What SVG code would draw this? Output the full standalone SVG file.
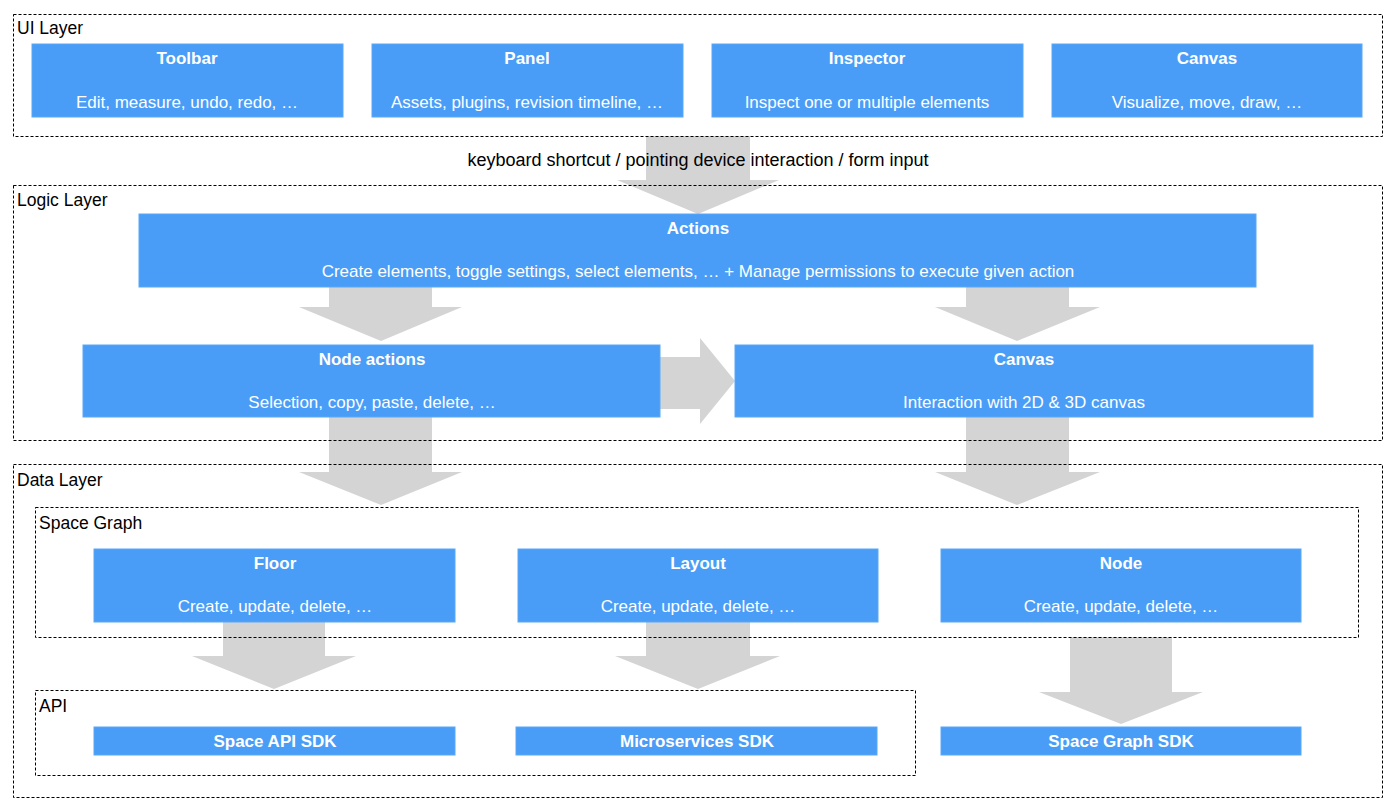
<svg xmlns="http://www.w3.org/2000/svg" width="1395" height="810" viewBox="0 0 1395 810">
<style>
.c{fill:none;stroke:#000;stroke-width:1;stroke-dasharray:3 2}
.b{fill:#499DF6;stroke:#5AA8F8;stroke-width:1}
.a{fill:#D4D4D4}
.t{font-family:"Liberation Sans",Arial,sans-serif;font-size:17px;fill:#fff;text-anchor:middle}
.h{font-weight:bold}
.l{font-family:"Liberation Sans",Arial,sans-serif;font-size:17.5px;fill:#000}
</style>
<rect width="1395" height="810" fill="#fff"/>
<g id="connectors">
<polygon class="a" points="646,136 750,136 750,180 779,180 698,214 617,180 646,180"/>
<polygon class="a" points="329,287 432,287 432,307 462,307 381,341 299,307 329,307"/>
<polygon class="a" points="966,287 1069,287 1069,307 1100,307 1017,341 935,307 966,307"/>
<polygon class="a" points="660,357 700,357 700,338 735,381 700,424 700,409 660,409"/>
<polygon class="a" points="329,417 432,417 432,472 462,472 381,505 299,472 329,472"/>
<polygon class="a" points="966,417 1069,417 1069,472 1100,472 1017,505 935,472 966,472"/>
<polygon class="a" points="223,622 325,622 325,656 356,656 274,689 192,656 223,656"/>
<polygon class="a" points="646,622 750,622 750,656 780,656 698,689 615,656 646,656"/>
<polygon class="a" points="1070,637 1172,637 1172,692 1203,692 1121,724 1039,692 1070,692"/>
</g>
<g id="ui-layer"><rect class="c" x="13.5" y="14.5" width="1369" height="122"/><text class="l" x="17" y="34">UI Layer</text></g>
<g id="logic-layer"><rect class="c" x="13.5" y="185.5" width="1369" height="255"/><text class="l" x="17" y="206">Logic Layer</text></g>
<g id="data-layer"><rect class="c" x="13.5" y="464.5" width="1369" height="333"/><text class="l" x="17" y="486">Data Layer</text></g>
<g id="space-graph"><rect class="c" x="35.5" y="507.5" width="1323" height="130"/><text class="l" x="39" y="529">Space Graph</text></g>
<g id="api"><rect class="c" x="35.5" y="690.5" width="880" height="85"/><text class="l" x="39" y="712">API</text></g>
<text class="l" x="698" y="166" text-anchor="middle" style="font-size:18px">keyboard shortcut / pointing device interaction / form input</text>
<g id="toolbar"><rect class="b" x="32" y="44" width="311" height="73"/><text class="t h" x="187" y="64">Toolbar</text><text class="t" x="187" y="108">Edit, measure, undo, redo, …</text></g>
<g id="panel"><rect class="b" x="372" y="44" width="311" height="73"/><text class="t h" x="527" y="64">Panel</text><text class="t" x="527" y="108">Assets, plugins, revision timeline, …</text></g>
<g id="inspector"><rect class="b" x="712" y="44" width="311" height="73"/><text class="t h" x="867" y="64">Inspector</text><text class="t" x="867" y="108">Inspect one or multiple elements</text></g>
<g id="canvas-ui"><rect class="b" x="1052" y="44" width="310" height="73"/><text class="t h" x="1207" y="64">Canvas</text><text class="t" x="1207" y="108">Visualize, move, draw, …</text></g>
<g id="actions"><rect class="b" x="139" y="214" width="1117" height="73"/><text class="t h" x="698" y="234">Actions</text><text class="t" x="698" y="277">Create elements, toggle settings, select elements, … + Manage permissions to execute given action</text></g>
<g id="node-actions"><rect class="b" x="83" y="345" width="577" height="72"/><text class="t h" x="372" y="365">Node actions</text><text class="t" x="372" y="408">Selection, copy, paste, delete, …</text></g>
<g id="canvas-logic"><rect class="b" x="735" y="345" width="578" height="72"/><text class="t h" x="1024" y="365">Canvas</text><text class="t" x="1024" y="408">Interaction with 2D &amp; 3D canvas</text></g>
<g id="floor"><rect class="b" x="94" y="549" width="361" height="73"/><text class="t h" x="275" y="569">Floor</text><text class="t" x="275" y="612">Create, update, delete, …</text></g>
<g id="layout"><rect class="b" x="518" y="549" width="360" height="73"/><text class="t h" x="698" y="569">Layout</text><text class="t" x="698" y="612">Create, update, delete, …</text></g>
<g id="node"><rect class="b" x="941" y="549" width="360" height="73"/><text class="t h" x="1121" y="569">Node</text><text class="t" x="1121" y="612">Create, update, delete, …</text></g>
<g id="space-api-sdk"><rect class="b" x="94" y="727" width="361" height="28"/><text class="t h" x="275" y="747">Space API SDK</text></g>
<g id="microservices-sdk"><rect class="b" x="516" y="727" width="361" height="28"/><text class="t h" x="697" y="747">Microservices SDK</text></g>
<g id="space-graph-sdk"><rect class="b" x="941" y="727" width="360" height="28"/><text class="t h" x="1121" y="747">Space Graph SDK</text></g>
</svg>
